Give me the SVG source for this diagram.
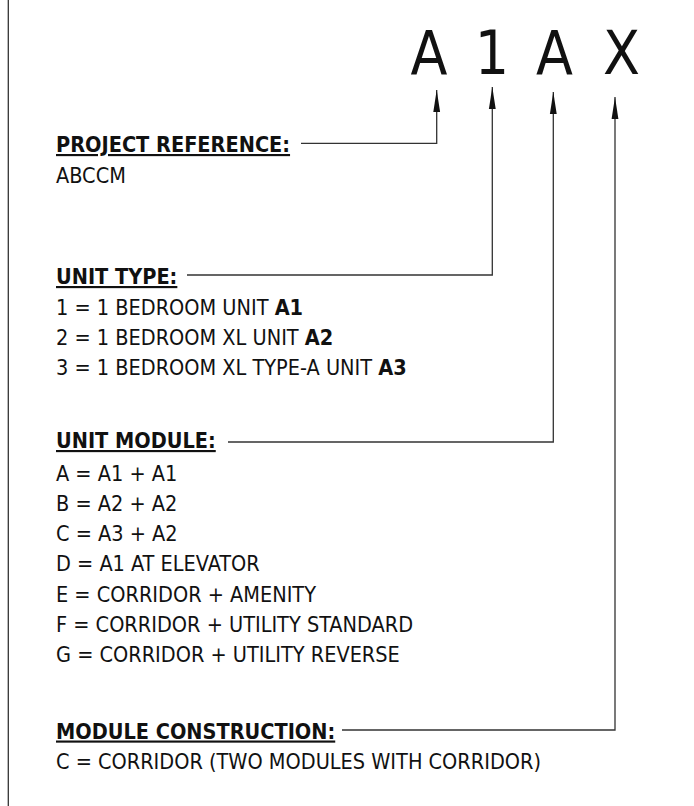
<svg xmlns="http://www.w3.org/2000/svg" width="694" height="806" viewBox="0 0 694 806">
<style>
.t{font-family:"DejaVu Sans Condensed","DejaVu Sans",sans-serif;font-size:21.5px;fill:#111}
.h{font-weight:bold;text-decoration:underline}
.b{font-weight:bold}
.big{font-family:"DejaVu Sans Condensed","DejaVu Sans",sans-serif;font-size:60px;fill:#111;text-anchor:middle}
.c{fill:none;stroke:#333;stroke-width:1.3}
</style>
<defs>
<marker id="ah" markerUnits="userSpaceOnUse" markerWidth="22" markerHeight="8" viewBox="0 0 22 8" refX="22" refY="4" orient="auto">
<polygon points="0,0.6 22,4 0,7.4" fill="#111"/>
</marker>
</defs>
<rect width="694" height="806" fill="#fff"/>
<line x1="8.3" y1="0" x2="8.3" y2="806" stroke="#333" stroke-width="1.3"/>
<g id="code">
<text class="big" x="429" y="74">A</text>
<text class="big" x="492" y="74">1</text>
<text class="big" x="554.5" y="74">A</text>
<text class="big" x="621.5" y="74">X</text>
</g>
<g id="connectors">
<path class="c" d="M301,143.3 H436.7 V90" marker-end="url(#ah)"/>
<path class="c" d="M187,275 H492.3 V87" marker-end="url(#ah)"/>
<path class="c" d="M228,442 H553.3 V92" marker-end="url(#ah)"/>
<path class="c" d="M342,730 H615 V97" marker-end="url(#ah)"/>
</g>
<g id="project-reference">
<text class="t h" x="56" y="152">PROJECT REFERENCE:</text>
<text class="t" x="56" y="183">ABCCM</text>
</g>
<g id="unit-type">
<text class="t h" x="56" y="284">UNIT TYPE:</text>
<text class="t" x="56" y="315">1 = 1 BEDROOM UNIT <tspan class="b">A1</tspan></text>
<text class="t" x="56" y="345">2 = 1 BEDROOM XL UNIT <tspan class="b">A2</tspan></text>
<text class="t" x="56" y="375">3 = 1 BEDROOM XL TYPE-A UNIT <tspan class="b">A3</tspan></text>
</g>
<g id="unit-module">
<text class="t h" x="56" y="448">UNIT MODULE:</text>
<text class="t" x="56" y="480.5">A = A1 + A1</text>
<text class="t" x="56" y="511">B = A2 + A2</text>
<text class="t" x="56" y="541">C = A3 + A2</text>
<text class="t" x="56" y="571">D = A1 AT ELEVATOR</text>
<text class="t" x="56" y="601.5">E = CORRIDOR + AMENITY</text>
<text class="t" x="56" y="632">F = CORRIDOR + UTILITY STANDARD</text>
<text class="t" x="56" y="662">G = CORRIDOR + UTILITY REVERSE</text>
</g>
<g id="module-construction">
<text class="t h" x="56" y="738.5">MODULE CONSTRUCTION:</text>
<text class="t" x="56" y="769">C = CORRIDOR (TWO MODULES WITH CORRIDOR)</text>
</g>
</svg>
